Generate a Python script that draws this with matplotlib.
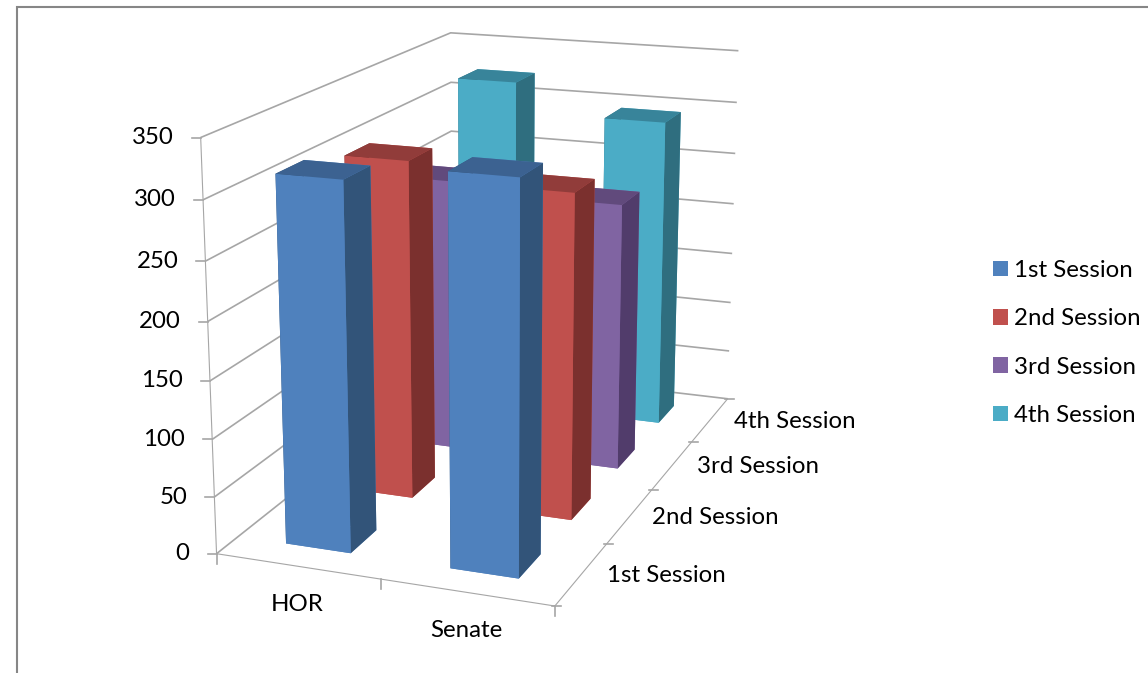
import matplotlib
matplotlib.use("Agg")
import matplotlib.pyplot as plt
from matplotlib.patches import Patch, Rectangle
from mpl_toolkits.mplot3d import proj3d

plt.rcParams['font.family'] = ['Lato', 'DejaVu Sans']

categories = ['HOR', 'Senate']
sessions = ['1st Session', '2nd Session', '3rd Session', '4th Session']
hor_values = [316, 303, 255, 323]
senate_values = [330, 288, 247, 295]
z_ticks = [0, 50, 100, 150, 200, 250, 300, 350]

front_colors = ['#4F81BD', '#C0504D', '#8064A2', '#4BACC6']
side_colors = ['#325479', '#7B302E', '#513C6B', '#2F6E7F']
top_colors = ['#3C6291', '#913C3A', '#614A7C', '#38849A']
grid_color = '#A6A6A6'

fig = plt.figure(figsize=(11.48, 6.73), dpi=100)
fig.patches.append(Rectangle((17 / 1148, -0.01), 1.1, 1 - 7 / 673 + 0.01, transform=fig.transFigure,
                             fill=False, edgecolor='#868686', linewidth=1.5))

ax = fig.add_axes([0.0094, 0.0644, 0.83, 1.0], projection='3d', computed_zorder=False)
ax.set_proj_type('persp', focal_length=0.6)
ax.view_init(elev=16, azim=-69.5)
ax.set_box_aspect((0.96, 1.72, 1.14), zoom=1.135)
ax.set_xlim(-0.5, 1.5)
ax.set_ylim(-0.5, 3.5)
ax.set_zlim(0, 350)

width = 0.4
order = 100
for j in range(len(sessions) - 1, -1, -1):
    for i, vals in enumerate([hor_values, senate_values]):
        # bar3d faces: bottom, top, -y (front), +y, -x, +x (side)
        cols = [front_colors[j], top_colors[j], front_colors[j], front_colors[j], side_colors[j], side_colors[j]]
        ax.bar3d(i - width / 2, j - width / 2, 0, width, width, vals[j], color=cols, shade=False,
                 zorder=order, edgecolor='none')
        order += 1

for axis in (ax.xaxis, ax.yaxis, ax.zaxis):
    axis.set_pane_color((1, 1, 1, 0))
    axis.pane.set_edgecolor('none')
    axis.line.set_color(grid_color)
    axis._axinfo['tick']['inward_factor'] = 0
    axis._axinfo['tick']['outward_factor'] = 0
ax.xaxis._axinfo['grid']['color'] = (1, 1, 1, 0)
ax.yaxis._axinfo['grid']['color'] = (1, 1, 1, 0)
ax.zaxis._axinfo['grid'].update(color=grid_color, linewidth=1.2)

x_edges = [-0.5, 0.5, 1.5]
y_edges = [-0.5, 0.5, 1.5, 2.5, 3.5]
ax.set_xticks(x_edges, labels=[''] * len(x_edges))
ax.set_yticks(y_edges, labels=[''] * len(y_edges))
ax.set_zticks(z_ticks, labels=[''] * len(z_ticks))
ax.zaxis.set_ticks_position('lower')

M = ax.get_proj()


def label_at(x, y, z, text, dx, dy, ha='center'):
    px, py, _ = proj3d.proj_transform(x, y, z, M)
    ax.annotate(text, (px, py), xytext=(dx, dy), textcoords='offset pixels', ha=ha, va='center',
                fontsize=17.3, annotation_clip=False, color='black')


def tick_at(x, y, z, dx0, dy0, dx1, dy1):
    px, py, _ = proj3d.proj_transform(x, y, z, M)
    trans = ax.transData.transform((px, py))
    fig.add_artist(plt.Line2D([trans[0] + dx0, trans[0] + dx1], [trans[1] + dy0, trans[1] + dy1],
                              transform=None, color=grid_color, linewidth=1.2))


for i, name in enumerate(categories):
    label_at(i, -0.5, 0, name, 0, -38)
for j, name in enumerate(sessions):
    label_at(1.5, j, 0, name, 85, -2)
for v in z_ticks:
    label_at(-0.5, -0.5, v, str(v), -27, 0, ha='right')

handles = [Patch(facecolor=c, label=s) for c, s in zip(front_colors, sessions)]
fig.legend(handles=handles, loc='center left', bbox_to_anchor=(993 / 1148, 1 - 343 / 673), frameon=False,
           fontsize=17.3, handlelength=0.62, handleheight=0.62, handletextpad=0.26, labelspacing=1.14,
           borderpad=0, borderaxespad=0)

# short tick marks anchored to the projected axis positions, placed once the axes layout is final
ax.apply_aspect()
for x in x_edges:
    tick_at(x, -0.5, 0, 0, 0, 0, -10)
for y in y_edges:
    tick_at(1.5, y, 0, -3, 0, 6, 0)
for v in z_ticks:
    tick_at(-0.5, -0.5, v, 0, 0, -9, 0)

fig.savefig('out.png', dpi=100)
